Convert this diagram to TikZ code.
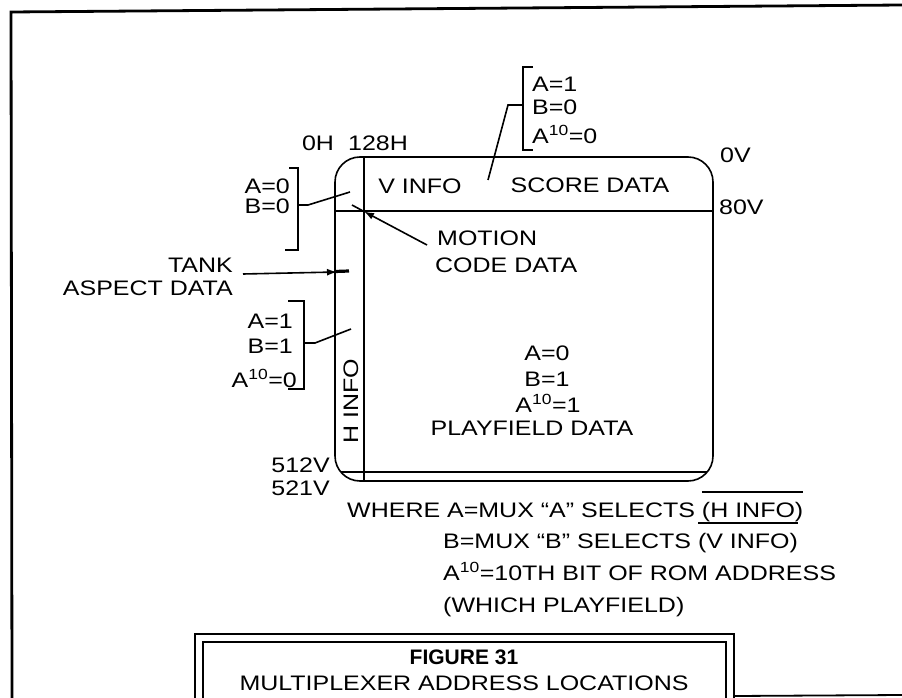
\documentclass[tikz,border=0pt]{standalone}
\usepackage{fontspec}
\setmainfont{Liberation Sans}[FakeStretch=1.19]
\newfontfamily\figfont{Liberation Sans}
\usetikzlibrary{arrows.meta}
\newcommand\supten{\textsuperscript{10}}
\newsavebox\ovlbox
\newcommand\ovltxt[1]{\sbox\ovlbox{#1}\rlap{\rule[24.5pt]{\wd\ovlbox}{1.4pt}}\usebox\ovlbox}
\begin{document}
\begin{tikzpicture}[x=1pt,y=-1pt,
  lbl/.style={inner sep=0pt, font=\fontsize{21}{26}\selectfont},
  ln/.style={line width=1.6pt},
  frameline/.style={line width=2.8pt},
  ptr/.style={ln,-{Latex[length=10pt,width=7pt]}}]
\useasboundingbox (0,0) rectangle (902,698);
% outer frame
\draw[frameline] (12,698) -- (11,12) -- (902,5);
% main rounded box
\draw[ln, rounded corners=25pt] (335,157) rectangle (713,481);
\begin{scope}
  \clip[rounded corners=25pt] (335,157) rectangle (713,481);
  \draw[ln] (364,150) -- (364,490);
  \draw[ln] (330,211) -- (720,211);
  \draw[ln] (330,472) -- (720,472);
\end{scope}
% coordinate labels
\node[lbl, anchor=base] (oh) at (318,150) {0H};
\node[lbl, anchor=base] (h128) at (378,150) {128H};
\node[lbl, anchor=base west] (v0) at (720,163) {0V};
\node[lbl, anchor=base west] (v80) at (719,214) {80V};
\node[lbl, anchor=base east] (v512) at (330,472) {512V};
\node[lbl, anchor=base east] (v521) at (330,495) {521V};
% inside texts
\node[lbl, anchor=base] (vinfo) at (420,193) {V INFO};
\node[lbl, anchor=base] (score) at (590,192) {SCORE DATA};
\node[lbl, rotate=90] (hinfo) at (351,401) {H INFO};
\node[lbl, anchor=base] (c1) at (547,360) {A=0};
\node[lbl, anchor=base] (c2) at (547,386) {B=1};
\node[lbl, anchor=base] (c3) at (548,412) {A\supten=1};
\node[lbl, anchor=base] (pf) at (532,435) {PLAYFIELD DATA};
% top bracket
\node[lbl, anchor=base west] (t1) at (532,92) {A=1};
\node[lbl, anchor=base west] (t2) at (532,115) {B=0};
\node[lbl, anchor=base west] (t3) at (532,143) {A\supten=0};
\draw[ln] (533,67) -- (523,67) -- (523,150) -- (533,150);
\coordinate (tbr) at (523,105);
\coordinate (tend) at (488,180);
\draw[ln] (tbr) -- (508,105) -- (tend);
% left bracket A=0 B=0
\node[lbl, anchor=base east] (l1) at (290,193) {A=0};
\node[lbl, anchor=base east] (l2) at (290,213) {B=0};
\draw[ln] (289,168) -- (298,168) -- (298,250) -- (285,250);
\coordinate (lbr) at (298,205);
\coordinate (lend) at (350,192);
\draw[ln] (lbr) -- (308,205) -- (lend);
% tank aspect data
\node[lbl, anchor=base east] (tank) at (233,272) {TANK};
\node[lbl, anchor=base east] (aspect) at (233,295) {ASPECT DATA};
\coordinate (tankend) at (337,272);
\draw[ptr] ([shift={(10,2)}]tank.base east) -- (tankend);
\draw[line width=3.2pt] (335,271.5) -- (349,271);
% bracket A=1 B=1 A10=0
\node[lbl, anchor=base east] (m1) at (293,328) {A=1};
\node[lbl, anchor=base east] (m2) at (293,353) {B=1};
\node[lbl, anchor=base east] (m3) at (297,387) {A\supten=0};
\draw[ln] (288,301) -- (304,301) -- (304,389) -- (288,389);
\coordinate (mbr) at (304,343);
\coordinate (mend) at (351,329);
\draw[ln] (mbr) -- (315,343) -- (mend);
% motion code data
\node[lbl, anchor=base west] (mot1) at (437,245) {MOTION};
\node[lbl, anchor=base west] (mot2) at (435,272) {CODE DATA};
\coordinate (motstart) at (427,245);
\coordinate (cross) at (364,211.5);
\coordinate (beyond) at (352,205);
\draw[ptr] (motstart) -- (cross);
\draw[ln] (cross) -- (beyond);
% legend
\node[lbl, anchor=base west] (w1) at (347,517) {WHERE A=MUX ``A'' SELECTS \ovltxt{(H INFO)}};
\node[lbl, anchor=base west] (w2) at (443,548) {B=MUX ``B'' SELECTS \ovltxt{(V INFO)}};
\node[lbl, anchor=base west] (w3) at (443,580) {A\supten=10TH BIT OF ROM ADDRESS};
\node[lbl, anchor=base west] (w4) at (443,612) {(WHICH PLAYFIELD)};
% figure title box
\draw[line width=2.6pt] (195,700) -- (195,634) -- (734,634) -- (734,700);
\draw[ln] (203,700) -- (203,642) -- (726,642) -- (726,700);
\draw[line width=1.8pt] (734,696) -- (902,695);
\node[lbl, anchor=base, font=\fontsize{21}{26}\figfont\bfseries] (fig) at (464,664) {FIGURE 31};
\node[lbl, anchor=base] (figsub) at (464,690) {MULTIPLEXER ADDRESS LOCATIONS};
\end{tikzpicture}
\end{document}
